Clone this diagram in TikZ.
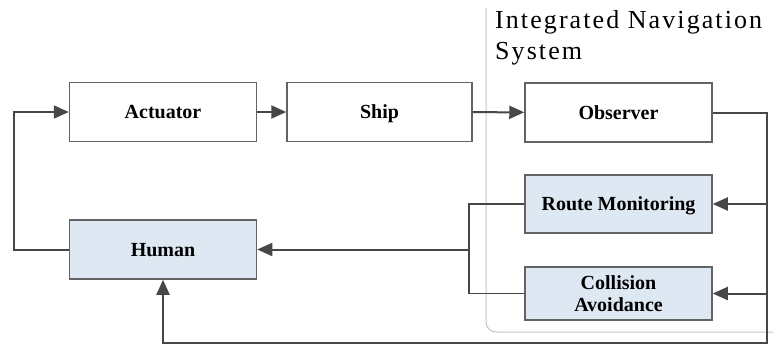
\documentclass[tikz,border=0pt]{standalone}
\usepackage{fontspec}
\setmainfont{Liberation Serif}
\newfontfamily\titlefont[LetterSpace=8]{Liberation Serif}
\usetikzlibrary{arrows.meta}
\definecolor{boxfill}{HTML}{DEE8F2}
\definecolor{linec}{HTML}{474747}
\definecolor{grp}{HTML}{C4C4C4}
\begin{document}
\begin{tikzpicture}[x=1pt,y=-1pt,
  blkbase/.style={draw=linec!85, line width=1.5pt, minimum width=187pt, minimum height=59pt, inner sep=0pt, font=\fontsize{20}{22}\selectfont\bfseries, align=center},
  blk/.style={blkbase, text height=13.5pt, text depth=0pt},
  blkf/.style={blk, fill=boxfill},
  wire/.style={draw=linec, line width=2pt},
  arr/.style={wire, -{Triangle[length=15pt,width=13pt]}}]
\useasboundingbox (0,0) rectangle (773,346);
% group
\draw[grp, line width=1pt, rounded corners=10pt] (486,8) -- (486,332) -- (790,332);
\node[anchor=north west, inner sep=0pt, align=left, font=\titlefont\fontsize{26}{31}\selectfont] (title) at (495,10) {Integrated Navigation\\System};
% blocks
\node[blk] (actuator) at (163,112) {Actuator};
\node[blk, minimum width=185pt] (ship) at (379.5,112) {Ship};
\node[blk] (observer) at (618.5,112.5) {Observer};
\node[blkf, minimum height=58pt] (route) at (618.5,204) {Route Monitoring};
\node[blkbase, fill=boxfill, minimum height=53pt] (collision) at (618.5,293.5) {Collision\\Avoidance};
\node[blkf] (human) at (163,249.5) {Human};
% coordinates
\coordinate (L) at (14,200);
\coordinate (R) at (767,343);
\coordinate (J) at (469,249.5);
% connectors
\draw[arr] (human.west) -| (L) |- (actuator.west);
\draw[arr] (actuator) -- (ship);
\draw[arr] (ship) -- (observer);
\draw[arr] (observer.east) -| (R) -| (human.south);
\draw[arr] (route.east -| R) -- (route.east);
\draw[arr] (collision.east -| R) -- (collision.east);
\draw[wire, line width=1.6pt] (route.west) -| (J) |- (collision.west);
\draw[arr] (J) -- (human.east);
\end{tikzpicture}
\end{document}
